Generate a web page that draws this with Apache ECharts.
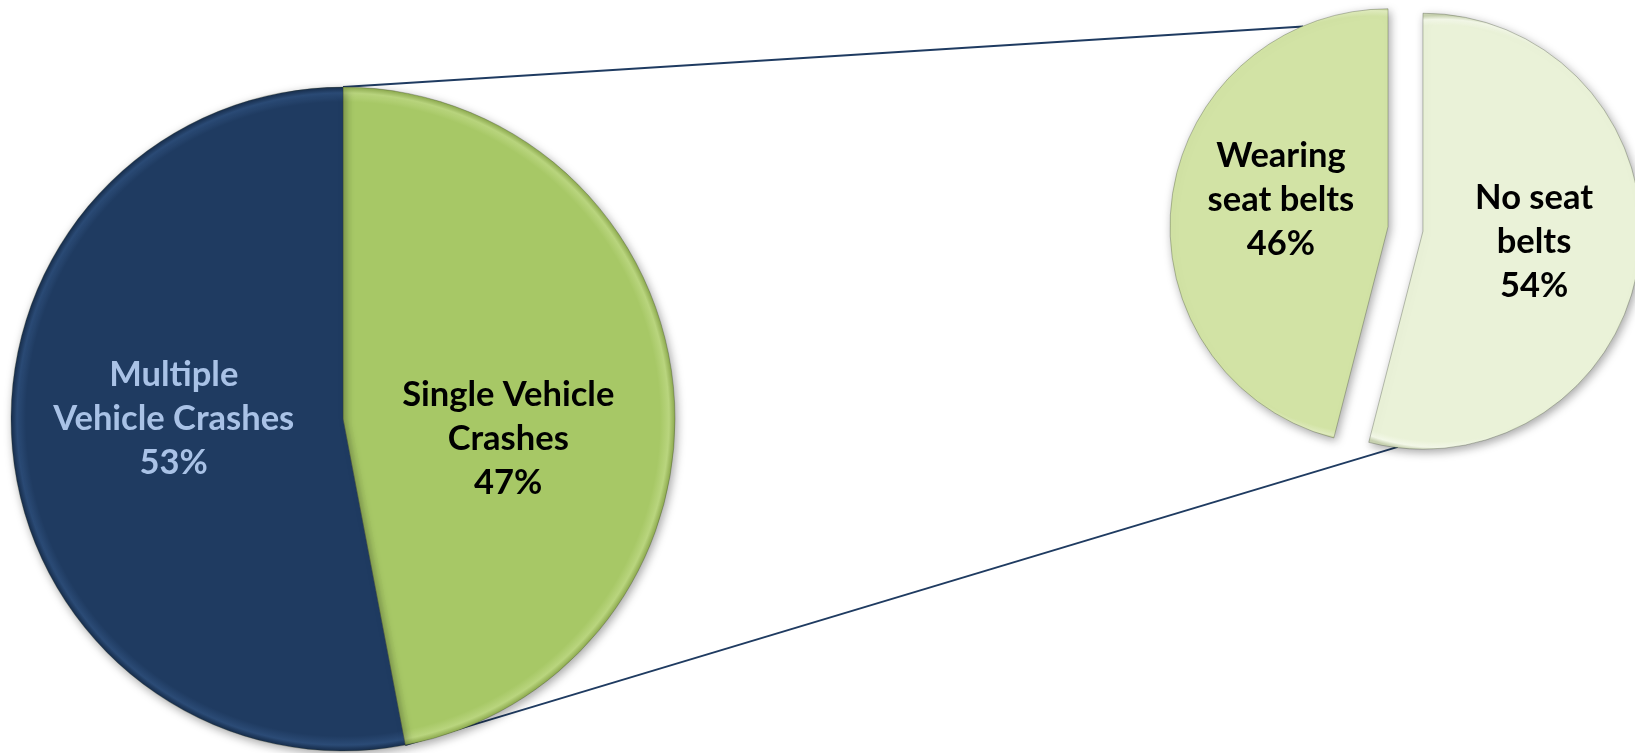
<!DOCTYPE html>
<html>
<head>
<meta charset="utf-8">
<script src="https://cdn.jsdelivr.net/npm/echarts@6/dist/echarts.min.js"></script>
<style>
html,body{margin:0;padding:0;background:#fff;}
#chart{width:1635px;height:753px;}
</style>
</head>
<body>
<div id="chart"></div>
<script>
// ---- data ----
const mainCategories = ['Single Vehicle\nCrashes', 'Multiple\nVehicle Crashes'];
const mainValues = [47, 53];
const subCategories = ['No seat\nbelts', 'Wearing\nseat belts'];
const subValues = [54, 46];

// ---- layout / style ----
const mainC = [343, 419], mainR = 332;
const subC = [1405.5, 229], subR = 218, subOffset = 17.6;
const mainColors = [['#A7C866', '#B9D57E', '#8DAA4E'], ['#1F3B61', '#2B4B76', '#172D4B']];
const mainLabelColors = ['#000000', '#A9C2E6'];
const mainLabelShift = [[-3, 36], [-1, -16]];
const subColorsOrdered = [['#EAF2D8', '#F3F8E8', '#C9D3B2'], ['#D2E3A5', '#E0ECBE', '#AFC080']];
const subLabelShift = [[0, -3], [4, -13]];
const lineColor = '#1F3B61';
const fontFam = 'Lato, "Open Sans", sans-serif';

const chart = echarts.init(document.getElementById('chart'), null, {renderer: 'canvas'});

function labelStyle(color) {
  return {
    show: true, position: 'inner', color: color, fontFamily: fontFam,
    fontWeight: 'bold', fontSize: 34.5, lineHeight: 44, align: 'center',
    formatter: p => p.name + '\n' + p.value + '%'
  };
}

function rimFill(c, cx, cy, r) {
  return {
    type: 'radial', x: cx, y: cy, r: r, global: true,
    colorStops: [
      {offset: 0, color: c[0]}, {offset: 0.955, color: c[0]},
      {offset: 0.982, color: c[1]}, {offset: 1, color: c[2]}
    ]
  };
}

const sliceStyle = {
  borderColor: 'rgba(50,60,40,0.3)', borderWidth: 1,
  shadowBlur: 10, shadowColor: 'rgba(0,0,0,0.35)', shadowOffsetX: 2, shadowOffsetY: 3
};

// connector lines derived from pie geometry & data
const splitAngle = mainValues[0] / (mainValues[0] + mainValues[1]) * 2 * Math.PI;
const p1 = [mainC[0], mainC[1] - mainR];
const p2 = [mainC[0] + mainR * Math.sin(splitAngle), mainC[1] - mainR * Math.cos(splitAngle)];
const topAng = -26.8 * Math.PI / 180, botAng = 182 * Math.PI / 180;
const q1 = [subC[0] + (subR + 9) * Math.sin(topAng), subC[1] - (subR + 9) * Math.cos(topAng)];
const q2 = [subC[0] + subR * Math.sin(botAng), subC[1] - subR * Math.cos(botAng)];

// exploded centres of the secondary slices (for the rim gradient)
const subTotal = subValues.reduce((a, b) => a + b, 0);
let acc = 0;
const subCentres = subValues.map(v => {
  const mid = (acc + v / 2) / subTotal * 2 * Math.PI;
  acc += v;
  return [subC[0] + subOffset * Math.sin(mid), subC[1] - subOffset * Math.cos(mid)];
});

chart.setOption({
  animation: false,
  backgroundColor: '#ffffff',
  graphic: [
    {type: 'line', z: 0, shape: {x1: p1[0], y1: p1[1], x2: q1[0], y2: q1[1]}, style: {stroke: lineColor, lineWidth: 2}},
    {type: 'line', z: 0, shape: {x1: p2[0], y1: p2[1], x2: q2[0], y2: q2[1]}, style: {stroke: lineColor, lineWidth: 2}}
  ],
  series: [
    {
      type: 'pie', z: 5,
      center: mainC, radius: [0, mainR],
      startAngle: 90, clockwise: true,
      label: labelStyle('#000'),
      labelLine: {show: false},
      labelLayout: p => ({dx: mainLabelShift[p.dataIndex][0], dy: mainLabelShift[p.dataIndex][1]}),
      emphasis: {disabled: true},
      data: mainCategories.map((n, i) => ({
        name: n, value: mainValues[i],
        itemStyle: Object.assign({color: rimFill(mainColors[i], mainC[0], mainC[1], mainR)}, sliceStyle),
        label: {color: mainLabelColors[i]}
      }))
    },
    {
      type: 'pie', z: 5,
      center: subC, radius: [0, subR],
      startAngle: 90, clockwise: true,
      selectedMode: 'multiple', selectedOffset: subOffset,
      label: labelStyle('#000'),
      labelLine: {show: false},
      labelLayout: p => ({dx: subLabelShift[p.dataIndex][0], dy: subLabelShift[p.dataIndex][1]}),
      emphasis: {disabled: true},
      data: subCategories.map((n, i) => ({
        name: n, value: subValues[i], selected: true,
        itemStyle: Object.assign({color: rimFill(subColorsOrdered[i], subCentres[i][0], subCentres[i][1], subR)}, sliceStyle)
      }))
    }
  ]
});
</script>
</body>
</html>
